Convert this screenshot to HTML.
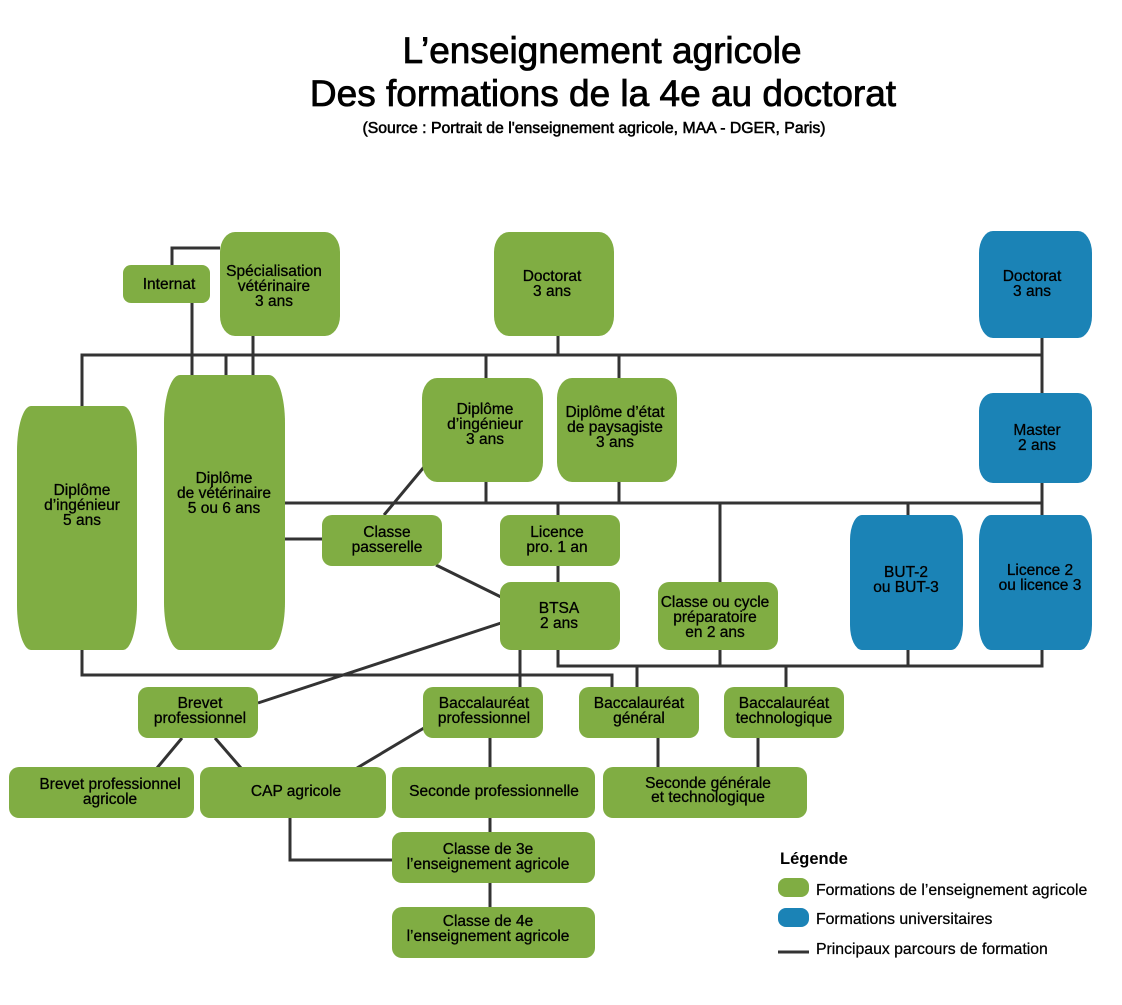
<!DOCTYPE html>
<html lang="fr">
<head>
<meta charset="utf-8">
<title>L’enseignement agricole</title>
<style>
  html, body { margin: 0; padding: 0; background: #ffffff; }
  body { width: 1122px; height: 1005px; overflow: hidden; }
  svg { display: block; }
  .t { font-family: "Liberation Sans", Arial, sans-serif; font-size: 15.5px; fill: #000; text-anchor: middle; stroke: #000; stroke-width: 0.3px; }
  .g { fill: #80ad43; }
  .b { fill: #1b83b6; }
  .ln { stroke: #333333; stroke-width: 3; fill: none; stroke-linejoin: miter; }
</style>
</head>
<body>
<svg width="1122" height="1005" viewBox="0 0 1122 1005" xmlns="http://www.w3.org/2000/svg">
  <rect x="0" y="0" width="1122" height="1005" fill="#ffffff"/>

  <!-- Title -->
  <text x="602" y="63" font-family="Liberation Sans, Arial, sans-serif" font-size="37" text-anchor="middle" fill="#000" stroke="#000" stroke-width="0.8">L’enseignement agricole</text>
  <text x="603" y="106" font-family="Liberation Sans, Arial, sans-serif" font-size="37" text-anchor="middle" fill="#000" stroke="#000" stroke-width="0.8">Des formations de la 4e au doctorat</text>
  <text x="594" y="133" font-family="Liberation Sans, Arial, sans-serif" font-size="15.8" text-anchor="middle" fill="#000" stroke="#000" stroke-width="0.55">(Source : Portrait de l'enseignement agricole, MAA - DGER, Paris)</text>

  <!-- Connectors -->
  <g class="ln">
    <polyline points="172,265 172,248 220,248"/>
    <line x1="192" y1="303" x2="192" y2="375"/>
    <line x1="253" y1="336" x2="253" y2="375"/>
    <line x1="226" y1="355" x2="226" y2="375"/>
    <polyline points="82,406 82,355 1042,355"/>
    <line x1="558" y1="336" x2="558" y2="355"/>
    <line x1="486" y1="355" x2="486" y2="378"/>
    <line x1="619" y1="355" x2="619" y2="378"/>
    <line x1="1042" y1="338" x2="1042" y2="393"/>
    <line x1="285" y1="503" x2="1042" y2="503"/>
    <line x1="1042" y1="483" x2="1042" y2="515"/>
    <line x1="486" y1="482" x2="486" y2="503"/>
    <line x1="619" y1="482" x2="619" y2="503"/>
    <line x1="558" y1="503" x2="558" y2="515"/>
    <line x1="720" y1="503" x2="720" y2="582"/>
    <line x1="908" y1="503" x2="908" y2="515"/>
    <line x1="285" y1="539" x2="322" y2="539"/>
    <line x1="424" y1="467" x2="384" y2="515"/>
    <line x1="436" y1="565" x2="501" y2="597"/>
    <line x1="501" y1="623" x2="258" y2="703"/>
    <line x1="558" y1="566" x2="558" y2="582"/>
    <line x1="520" y1="650" x2="520" y2="687"/>
    <polyline points="558,650 558,666 1042,666 1042,650"/>
    <line x1="720" y1="650" x2="720" y2="666"/>
    <line x1="908" y1="650" x2="908" y2="666"/>
    <line x1="637" y1="666" x2="637" y2="687"/>
    <line x1="786" y1="666" x2="786" y2="687"/>
    <polyline points="82,650 82,675 612,675 612,687"/>
    <line x1="182" y1="738" x2="157" y2="768"/>
    <line x1="215" y1="738" x2="241" y2="768"/>
    <line x1="357" y1="768" x2="424" y2="728"/>
    <polyline points="290,818 290,860 392,860"/>
    <line x1="490" y1="738" x2="490" y2="767"/>
    <line x1="490" y1="818" x2="490" y2="832"/>
    <line x1="490" y1="883" x2="490" y2="907"/>
    <line x1="658" y1="738" x2="658" y2="767"/>
    <line x1="758" y1="738" x2="758" y2="767"/>
  </g>

  <!-- Boxes -->
  <rect class="g" x="123" y="265" width="87" height="38" rx="8" ry="8"/>
  <rect class="g" x="220" y="232" width="120" height="104" rx="15" ry="20"/>
  <rect class="g" x="494" y="232" width="120" height="104" rx="15" ry="20"/>
  <rect class="b" x="979" y="231" width="113" height="107" rx="14" ry="22"/>
  <rect class="g" x="17" y="406" width="120" height="244" rx="14" ry="45"/>
  <rect class="g" x="164" y="375" width="121" height="275" rx="16" ry="48"/>
  <rect class="g" x="422" y="378" width="121" height="104" rx="15" ry="20"/>
  <rect class="g" x="557" y="378" width="120" height="104" rx="15" ry="20"/>
  <rect class="b" x="979" y="393" width="113" height="90" rx="14" ry="18"/>
  <rect class="g" x="322" y="515" width="120" height="51" rx="10" ry="10"/>
  <rect class="g" x="500" y="515" width="120" height="51" rx="10" ry="10"/>
  <rect class="b" x="850" y="515" width="113" height="135" rx="12" ry="25"/>
  <rect class="b" x="979" y="515" width="113" height="135" rx="12" ry="25"/>
  <rect class="g" x="500" y="582" width="120" height="68" rx="11" ry="11"/>
  <rect class="g" x="658" y="582" width="120" height="68" rx="11" ry="11"/>
  <rect class="g" x="138" y="687" width="120" height="51" rx="10" ry="10"/>
  <rect class="g" x="423" y="687" width="120" height="51" rx="10" ry="10"/>
  <rect class="g" x="579" y="687" width="120" height="51" rx="10" ry="10"/>
  <rect class="g" x="724" y="687" width="120" height="51" rx="10" ry="10"/>
  <rect class="g" x="9" y="767" width="185" height="51" rx="10" ry="10"/>
  <rect class="g" x="200" y="767" width="186" height="51" rx="10" ry="10"/>
  <rect class="g" x="392" y="767" width="203" height="51" rx="10" ry="10"/>
  <rect class="g" x="603" y="767" width="204" height="51" rx="10" ry="10"/>
  <rect class="g" x="392" y="832" width="203" height="51" rx="10" ry="10"/>
  <rect class="g" x="392" y="907" width="203" height="51" rx="10" ry="10"/>

  <!-- Labels -->
  <text class="t" x="169" y="289">Internat</text>
  <text class="t" x="274" y="276">Spécialisation</text>
  <text class="t" x="274" y="291">vétérinaire</text>
  <text class="t" x="274" y="306">3 ans</text>

  <text class="t" x="552" y="281">Doctorat</text>
  <text class="t" x="552" y="296">3 ans</text>

  <text class="t" x="1032" y="281">Doctorat</text>
  <text class="t" x="1032" y="296">3 ans</text>

  <text class="t" x="82" y="495">Diplôme</text>
  <text class="t" x="82" y="510">d’ingénieur</text>
  <text class="t" x="82" y="525">5 ans</text>

  <text class="t" x="224" y="483">Diplôme</text>
  <text class="t" x="224" y="498">de vétérinaire</text>
  <text class="t" x="224" y="513">5 ou 6 ans</text>

  <text class="t" x="485" y="414">Diplôme</text>
  <text class="t" x="485" y="429">d’ingénieur</text>
  <text class="t" x="485" y="444">3 ans</text>

  <text class="t" x="615" y="417">Diplôme d’état</text>
  <text class="t" x="615" y="432">de paysagiste</text>
  <text class="t" x="615" y="447">3 ans</text>

  <text class="t" x="1037" y="435">Master</text>
  <text class="t" x="1037" y="450">2 ans</text>

  <text class="t" x="387" y="537">Classe</text>
  <text class="t" x="387" y="552">passerelle</text>

  <text class="t" x="557" y="537">Licence</text>
  <text class="t" x="557" y="552">pro. 1 an</text>

  <text class="t" x="559" y="613">BTSA</text>
  <text class="t" x="559" y="628">2 ans</text>

  <text class="t" x="715" y="607">Classe ou cycle</text>
  <text class="t" x="715" y="622">préparatoire</text>
  <text class="t" x="715" y="637">en 2 ans</text>

  <text class="t" x="906" y="577">BUT-2</text>
  <text class="t" x="906" y="592">ou BUT-3</text>

  <text class="t" x="1040" y="575">Licence 2</text>
  <text class="t" x="1040" y="590">ou licence 3</text>

  <text class="t" x="200" y="708">Brevet</text>
  <text class="t" x="200" y="723">professionnel</text>

  <text class="t" x="484" y="708">Baccalauréat</text>
  <text class="t" x="484" y="723">professionnel</text>

  <text class="t" x="639" y="708">Baccalauréat</text>
  <text class="t" x="639" y="723">général</text>

  <text class="t" x="784" y="708">Baccalauréat</text>
  <text class="t" x="784" y="723">technologique</text>

  <text class="t" x="110" y="789">Brevet professionnel</text>
  <text class="t" x="110" y="804">agricole</text>

  <text class="t" x="296" y="796">CAP agricole</text>

  <text class="t" x="494" y="796">Seconde professionnelle</text>

  <text class="t" x="708" y="788">Seconde générale</text>
  <text class="t" x="708" y="802">et technologique</text>

  <text class="t" x="488" y="854">Classe de 3e</text>
  <text class="t" x="488" y="869">l’enseignement agricole</text>

  <text class="t" x="488" y="926">Classe de 4e</text>
  <text class="t" x="488" y="941">l’enseignement agricole</text>

  <!-- Legend -->
  <text x="780" y="864" font-family="Liberation Sans, Arial, sans-serif" font-size="16.5" font-weight="bold" fill="#000">Légende</text>
  <rect class="g" x="778" y="878" width="31" height="19" rx="8" ry="8"/>
  <text x="816" y="895" font-family="Liberation Sans, Arial, sans-serif" font-size="15.8" fill="#000" stroke="#000" stroke-width="0.25">Formations de l’enseignement agricole</text>
  <rect class="b" x="778" y="908" width="31" height="19" rx="8" ry="8"/>
  <text x="816" y="924" font-family="Liberation Sans, Arial, sans-serif" font-size="15.8" fill="#000" stroke="#000" stroke-width="0.25">Formations universitaires</text>
  <line x1="778" y1="952" x2="809" y2="952" stroke="#333333" stroke-width="3"/>
  <text x="816" y="954" font-family="Liberation Sans, Arial, sans-serif" font-size="15.8" fill="#000" stroke="#000" stroke-width="0.25">Principaux parcours de formation</text>
</svg>
</body>
</html>
